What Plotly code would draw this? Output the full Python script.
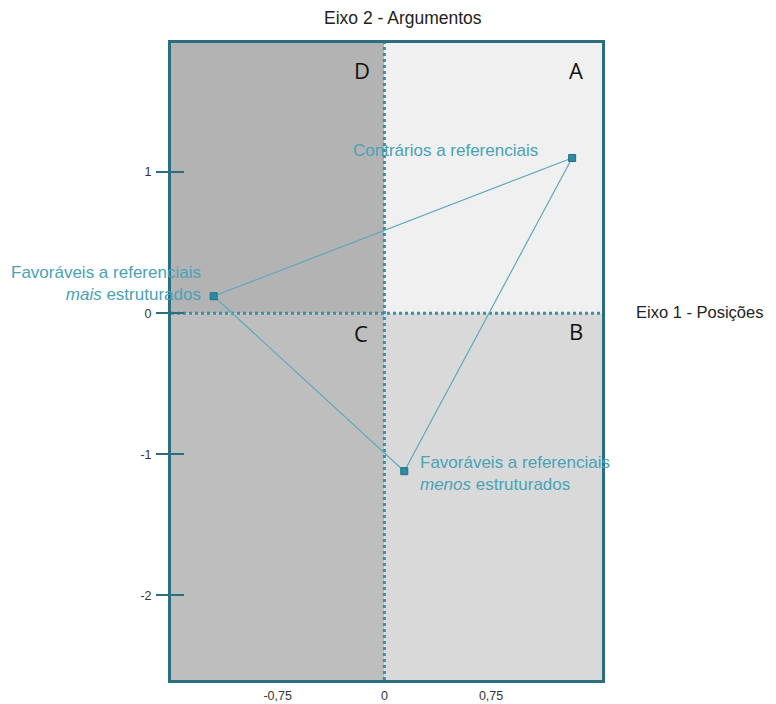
import plotly.graph_objects as go

# ---- data ----
group_labels = [
    "Contrários a referenciais",
    "Favoráveis a referenciais<br><i>mais</i> estruturados",
    "Favoráveis a referenciais<br><i>menos</i> estruturados",
]
eixo1_posicoes = [1.32, -1.20, 0.14]      # x
eixo2_argumentos = [1.10, 0.12, -1.12]    # y
quadrant_letters = ["D", "A", "C", "B"]
x_tick_vals = [-0.75, 0, 0.75]
x_tick_text = ["-0,75", "0", "0,75"]
y_tick_vals = [-2, -1, 0, 1]
y_tick_text = ["-2", "-1", "0", "1"]
x_title = "Eixo 1 - Posições"
y_title = "Eixo 2 - Argumentos"

X_MIN, X_MAX = -1.50, 1.53
Y_MIN, Y_MAX = -2.60, 1.915

FRAME = "#2b6e7e"
DOT = "#3591a9"
LINE = "#5ea9bb"
TEXT_TEAL = "#4aa2b6"
FONT = "Liberation Sans, Arial, sans-serif"

# the page body has an 8px default margin: figure is sized to fit the window
W, H = 768, 696
L, T = 163, 35
PW, PH = 431, 637

fig = go.Figure()

tri_x = eixo1_posicoes + [eixo1_posicoes[0]]
tri_y = eixo2_argumentos + [eixo2_argumentos[0]]
fig.add_trace(go.Scatter(
    x=tri_x, y=tri_y, mode="lines",
    line=dict(color=LINE, width=1.2),
    hoverinfo="skip", showlegend=False,
))
fig.add_trace(go.Scatter(
    x=eixo1_posicoes, y=eixo2_argumentos, mode="markers",
    marker=dict(symbol="square", size=7, color="#2a8ca3",
                line=dict(color="#1f6f85", width=1)),
    text=group_labels, hoverinfo="text", showlegend=False,
))
fig.add_trace(go.Scatter(x=[X_MIN], y=[Y_MIN], yaxis="y2", mode="markers",
                         marker=dict(opacity=0), hoverinfo="skip", showlegend=False))

quads = [
    (X_MIN, 0, 0, Y_MAX, "#b3b3b3"),   # D
    (0, X_MAX, 0, Y_MAX, "#f0f0f0"),   # A
    (X_MIN, 0, Y_MIN, 0, "#bebebe"),   # C
    (0, X_MAX, Y_MIN, 0, "#d9d9d9"),   # B
]
shapes = []
for x0, x1, y0, y1, c in quads:
    shapes.append(dict(type="rect", xref="x", yref="y", x0=x0, x1=x1, y0=y0, y1=y1,
                       fillcolor=c, line=dict(width=0), layer="below"))
shapes.append(dict(type="line", xref="x", yref="y", x0=0, x1=0, y0=Y_MIN, y1=Y_MAX,
                   line=dict(color=DOT, width=3, dash="dot"), layer="below"))
shapes.append(dict(type="line", xref="x", yref="y", x0=X_MIN, x1=X_MAX, y0=0, y1=0,
                   line=dict(color=DOT, width=3, dash="dot"), layer="below"))

annotations = []
label_offsets = [
    dict(xanchor="right", align="right", xshift=-32, yshift=7),
    dict(xanchor="right", align="right", xshift=-11, yshift=13),
    dict(xanchor="left", align="left", xshift=14, yshift=-2),
]
for lab, x, y, off in zip(group_labels, eixo1_posicoes, eixo2_argumentos, label_offsets):
    annotations.append(dict(x=x, y=y, xref="x", yref="y", text=lab, showarrow=False,
                            font=dict(family=FONT, size=17, color=TEXT_TEAL),
                            yanchor="middle", **off))


def px_to_paper(px, py):
    """page pixel position -> paper coordinates of the plot area"""
    return (px - 8 - L) / PW, (T + PH - (py - 8)) / PH


letter_px = [(362, 70), (576, 70), (361, 333), (576, 331)]
for letter, (lx, ly) in zip(quadrant_letters, letter_px):
    px, py = px_to_paper(lx, ly)
    annotations.append(dict(x=px, y=py, xref="paper", yref="paper", text=letter,
                            showarrow=False, xanchor="center", yanchor="middle",
                            font=dict(family="Open Sans, sans-serif", size=22, color="#111111")))
tx, ty = px_to_paper(403, 18)
annotations.append(dict(x=tx, y=ty, xref="paper", yref="paper", text=y_title,
                        showarrow=False, xanchor="center", yanchor="middle",
                        font=dict(family=FONT, size=17.5, color="#222222")))
ex, ey = px_to_paper(634, 312)
annotations.append(dict(x=ex, y=ey, xref="paper", yref="paper", text=x_title,
                        showarrow=False, xanchor="left", yanchor="middle",
                        font=dict(family=FONT, size=16.5, color="#222222")))

fig.update_layout(
    width=W, height=H,
    margin=dict(l=L, r=W - L - PW, t=T, b=H - T - PH, autoexpand=False),
    paper_bgcolor="white", plot_bgcolor="white",
    shapes=shapes, annotations=annotations,
    xaxis=dict(range=[X_MIN, X_MAX], showgrid=False, zeroline=False, automargin=False,
               showline=True, linecolor=FRAME, linewidth=3, mirror=True,
               ticks="", tickvals=x_tick_vals, ticktext=x_tick_text,
               tickfont=dict(family=FONT, size=12.5, color="#333333"),
               ticklabelstandoff=2),
    yaxis=dict(range=[Y_MIN, Y_MAX], showgrid=False, zeroline=False, automargin=False,
               showline=True, linecolor=FRAME, linewidth=3, mirror=True,
               ticks="outside", ticklen=12, tickwidth=2, tickcolor=FRAME,
               tickvals=y_tick_vals, ticktext=y_tick_text,
               tickfont=dict(family=FONT, size=12.5, color="#333333"),
               ticklabelstandoff=2),
    yaxis2=dict(range=[Y_MIN, Y_MAX], overlaying="y", side="left", anchor="x",
                automargin=False, showgrid=False, zeroline=False, showline=False,
                ticks="inside", ticklen=13, tickwidth=2, tickcolor=FRAME,
                tickvals=y_tick_vals, showticklabels=False),
    hovermode="closest",
)

fig.write_html("out.html")
